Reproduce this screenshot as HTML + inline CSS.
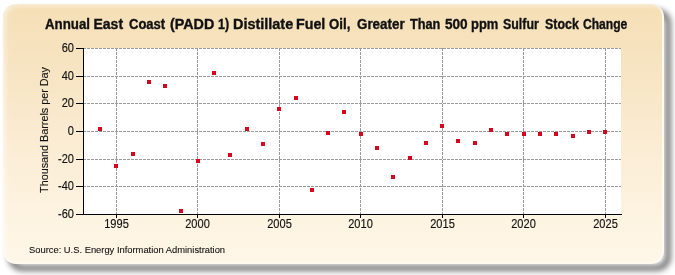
<!DOCTYPE html>
<html><head><meta charset="utf-8"><style>
html,body{margin:0;padding:0;width:675px;height:275px;overflow:hidden;background:#fff;}
body{position:relative;font-family:"Liberation Sans",sans-serif;}
#wrap{position:absolute;left:0;top:0;width:675px;height:275px;filter:blur(0px);}
.panel{position:absolute;left:3px;top:4px;width:661px;height:260px;border-radius:13px;
background:linear-gradient(to bottom,#f5dfb6 0%,#f7e5c4 30%,#fbecd4 55%,#fdf3e0 80%,#fef6e7 100%);
border-right:2px solid rgba(255,252,244,0.9);border-bottom:2px solid rgba(255,252,244,0.9);box-sizing:border-box;box-shadow:inset 3px 2px 4px rgba(255,255,255,0.5);}
.shadow{position:absolute;left:9px;top:10px;width:661px;height:260px;border-radius:13px;border:4px solid rgba(0,0,0,0.8);box-sizing:border-box;filter:blur(3px);}
.plot{position:absolute;left:84px;top:48px;width:537px;height:166px;background:#fff;}
svg{position:absolute;left:0;top:0;}
.g{stroke:#9a9a9a;stroke-width:1;stroke-dasharray:3 1;}
.a{stroke:#000;stroke-width:1;}
.tw{position:absolute;-webkit-text-stroke:0.35px #111;top:16px;transform-origin:left center;font-weight:bold;font-size:14px;letter-spacing:0px;color:#111;white-space:nowrap;line-height:17px;}
.title{position:absolute;left:-1px;top:16px;width:675px;text-align:center;font-weight:bold;font-size:14px;letter-spacing:0px;color:#111;white-space:nowrap;line-height:17px;}
.yl{position:absolute;left:20px;width:54px;text-align:right;font-size:12px;color:#111;-webkit-text-stroke:0.15px #111;line-height:15px;transform:scaleX(0.92);transform-origin:right center;}
.xl{position:absolute;top:217px;width:51px;text-align:center;font-size:12px;color:#111;-webkit-text-stroke:0.15px #111;line-height:15px;transform:scaleX(0.92);}
.ytitle{position:absolute;left:44px;top:129.5px;transform:translate(-50%,-50%) rotate(-90deg) scaleX(0.98);font-size:11px;color:#111;-webkit-text-stroke:0.1px #111;white-space:nowrap;line-height:12px;}
.src{position:absolute;left:29px;top:242.5px;font-size:9.5px;color:#111;-webkit-text-stroke:0.1px #111;white-space:nowrap;transform:scaleX(0.985);transform-origin:left center;line-height:13px;}
</style></head><body><div id="wrap">
<div class="shadow"></div><div class="panel"></div>
<div class="plot"></div>
<div class="tw" style="left:44.7px;transform:scaleX(0.949)">Annual</div><div class="tw" style="left:93.5px;transform:scaleX(1.0)">East</div><div class="tw" style="left:128.7px;transform:scaleX(0.931)">Coast</div><div class="tw" style="left:170.2px;transform:scaleX(1.023)">(PADD</div><div class="tw" style="left:217.51px;transform:scaleX(0.891)">1)</div><div class="tw" style="left:232.97px;transform:scaleX(1.032)">Distillate</div><div class="tw" style="left:295.68px;transform:scaleX(1.019)">Fuel</div><div class="tw" style="left:329.4px;transform:scaleX(0.945)">Oil,</div><div class="tw" style="left:356.7px;transform:scaleX(0.956)">Greater</div><div class="tw" style="left:410.2px;transform:scaleX(0.909)">Than</div><div class="tw" style="left:444.9px;transform:scaleX(0.97)">500</div><div class="tw" style="left:471.48px;transform:scaleX(0.925)">ppm</div><div class="tw" style="left:503.0px;transform:scaleX(0.885)">Sulfur</div><div class="tw" style="left:544.7px;transform:scaleX(0.887)">Stock</div><div class="tw" style="left:583.0px;transform:scaleX(0.863)">Change</div>
<div class="yl" style="top:41px">60</div><div class="yl" style="top:69px">40</div><div class="yl" style="top:96px">20</div><div class="yl" style="top:124px">0</div><div class="yl" style="top:152px">-20</div><div class="yl" style="top:179px">-40</div><div class="yl" style="top:207px">-60</div>
<div class="xl" style="left:91px">1995</div><div class="xl" style="left:172px">2000</div><div class="xl" style="left:254px">2005</div><div class="xl" style="left:335px">2010</div><div class="xl" style="left:417px">2015</div><div class="xl" style="left:498px">2020</div><div class="xl" style="left:580px">2025</div>
<div class="ytitle">Thousand Barrels per Day</div>
<div class="src">Source: U.S. Energy Information Administration</div>
<svg width="675" height="275" shape-rendering="crispEdges">
<line x1="116.5" y1="48" x2="116.5" y2="214" class="g"/><line x1="197.5" y1="48" x2="197.5" y2="214" class="g"/><line x1="279.5" y1="48" x2="279.5" y2="214" class="g"/><line x1="360.5" y1="48" x2="360.5" y2="214" class="g"/><line x1="442.5" y1="48" x2="442.5" y2="214" class="g"/><line x1="523.5" y1="48" x2="523.5" y2="214" class="g"/><line x1="605.5" y1="48" x2="605.5" y2="214" class="g"/><line x1="84" y1="48.5" x2="621" y2="48.5" class="g" stroke-dashoffset="1"/><line x1="84" y1="76.5" x2="621" y2="76.5" class="g" stroke-dashoffset="1"/><line x1="84" y1="103.5" x2="621" y2="103.5" class="g" stroke-dashoffset="1"/><line x1="84" y1="131.5" x2="621" y2="131.5" class="g" stroke-dashoffset="1"/><line x1="84" y1="159.5" x2="621" y2="159.5" class="g" stroke-dashoffset="1"/><line x1="84" y1="186.5" x2="621" y2="186.5" class="g" stroke-dashoffset="1"/><line x1="83.5" y1="48" x2="83.5" y2="215" class="a"/><line x1="76" y1="214.5" x2="622" y2="214.5" class="a"/><line x1="76" y1="48.5" x2="84" y2="48.5" class="a"/><line x1="76" y1="76.5" x2="84" y2="76.5" class="a"/><line x1="76" y1="103.5" x2="84" y2="103.5" class="a"/><line x1="76" y1="131.5" x2="84" y2="131.5" class="a"/><line x1="76" y1="159.5" x2="84" y2="159.5" class="a"/><line x1="76" y1="186.5" x2="84" y2="186.5" class="a"/><line x1="76" y1="214.5" x2="84" y2="214.5" class="a"/><line x1="116.5" y1="214" x2="116.5" y2="218" class="a"/><line x1="197.5" y1="214" x2="197.5" y2="218" class="a"/><line x1="279.5" y1="214" x2="279.5" y2="218" class="a"/><line x1="360.5" y1="214" x2="360.5" y2="218" class="a"/><line x1="442.5" y1="214" x2="442.5" y2="218" class="a"/><line x1="523.5" y1="214" x2="523.5" y2="218" class="a"/><line x1="605.5" y1="214" x2="605.5" y2="218" class="a"/><rect x="98" y="127" width="4" height="4" fill="#d8061c"/><rect x="114" y="164" width="4" height="4" fill="#d8061c"/><rect x="131" y="152" width="4" height="4" fill="#d8061c"/><rect x="147" y="80" width="4" height="4" fill="#d8061c"/><rect x="163" y="84" width="4" height="4" fill="#d8061c"/><rect x="179" y="209" width="4" height="4" fill="#d8061c"/><rect x="196" y="159" width="4" height="4" fill="#d8061c"/><rect x="212" y="71" width="4" height="4" fill="#d8061c"/><rect x="228" y="153" width="4" height="4" fill="#d8061c"/><rect x="245" y="127" width="4" height="4" fill="#d8061c"/><rect x="261" y="142" width="4" height="4" fill="#d8061c"/><rect x="277" y="107" width="4" height="4" fill="#d8061c"/><rect x="294" y="96" width="4" height="4" fill="#d8061c"/><rect x="310" y="188" width="4" height="4" fill="#d8061c"/><rect x="326" y="131" width="4" height="4" fill="#d8061c"/><rect x="342" y="110" width="4" height="4" fill="#d8061c"/><rect x="359" y="132" width="4" height="4" fill="#d8061c"/><rect x="375" y="146" width="4" height="4" fill="#d8061c"/><rect x="391" y="175" width="4" height="4" fill="#d8061c"/><rect x="408" y="156" width="4" height="4" fill="#d8061c"/><rect x="424" y="141" width="4" height="4" fill="#d8061c"/><rect x="440" y="124" width="4" height="4" fill="#d8061c"/><rect x="456" y="139" width="4" height="4" fill="#d8061c"/><rect x="473" y="141" width="4" height="4" fill="#d8061c"/><rect x="489" y="128" width="4" height="4" fill="#d8061c"/><rect x="505" y="132" width="4" height="4" fill="#d8061c"/><rect x="522" y="132" width="4" height="4" fill="#d8061c"/><rect x="538" y="132" width="4" height="4" fill="#d8061c"/><rect x="554" y="132" width="4" height="4" fill="#d8061c"/><rect x="571" y="134" width="4" height="4" fill="#d8061c"/><rect x="587" y="130" width="4" height="4" fill="#d8061c"/><rect x="603" y="130" width="4" height="4" fill="#d8061c"/>
</svg>
</div></body></html>
